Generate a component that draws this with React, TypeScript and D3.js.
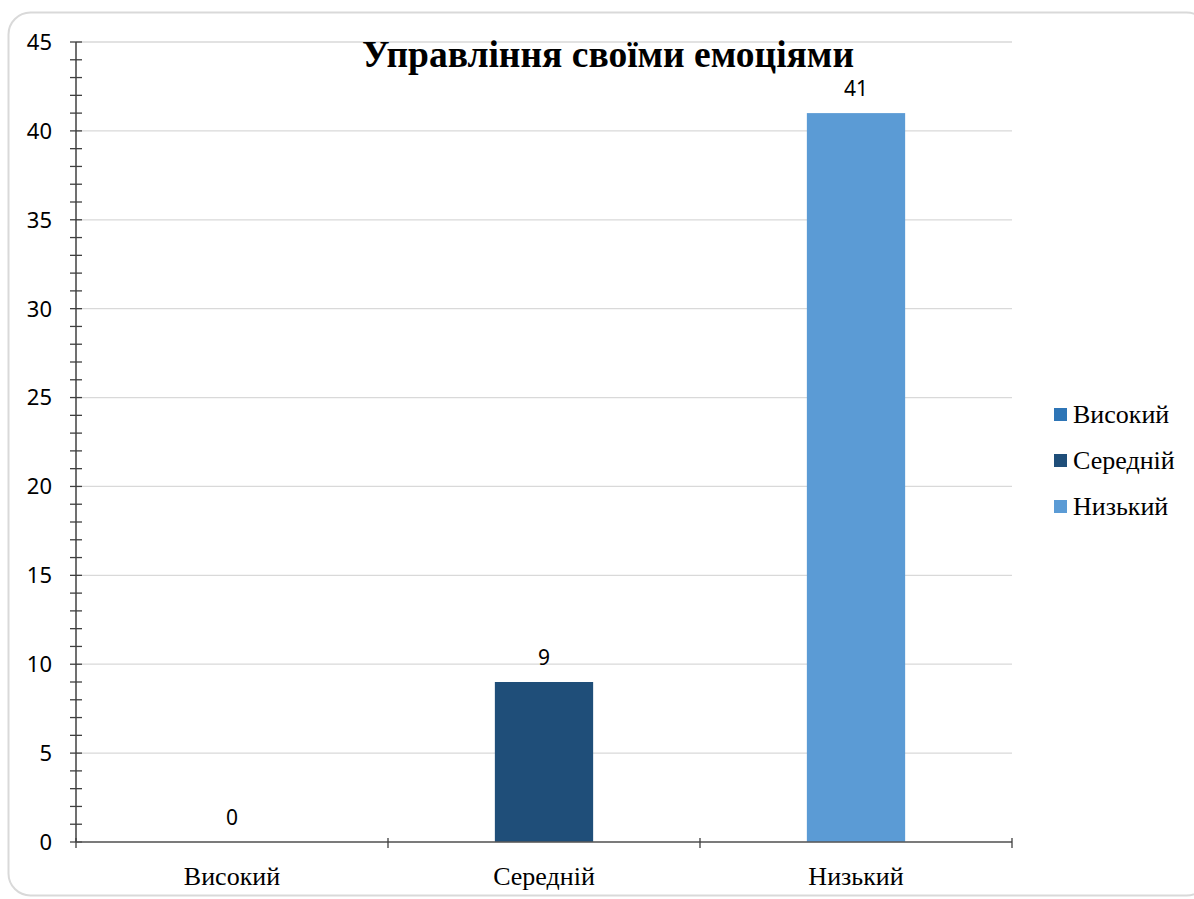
import React from 'react';
import * as d3 from 'd3';

const categories = ['Високий', 'Середній', 'Низький'];
const values = [0, 9, 41];
const colors = ['#2e75b6', '#1f4e79', '#5b9bd5'];
const yTicks = [0, 5, 10, 15, 20, 25, 30, 35, 40, 45];
const title = 'Управління своїми емоціями';

const App = () => {
  const W = 1194;
  const H = 899;
  const margin = { top: 42, right: 182, bottom: 57, left: 76 };
  const width = W - margin.left - margin.right;
  const height = H - margin.top - margin.bottom;

  const x = d3.scaleBand().domain(categories).range([0, width]).paddingInner(0.685).paddingOuter(0.3425);
  const xOuter = d3.scaleBand().domain(categories).range([0, width]);
  const y = d3.scaleLinear().domain([0, 45]).range([height, 0]);
  const minor = d3.range(0, 46, 1);

  const serif = '"Liberation Serif", "Times New Roman", serif';
  const sans = '"Noto Sans", "Open Sans", sans-serif';

  return (
    <svg width={W} height={H} style={{ position: 'absolute', left: 0, top: 0 }}>
      <rect x={8.5} y={12.5} width={1200} height={883} rx={22} fill="#fff" stroke="#d9d9d9" strokeWidth={2} />
      <g transform={`translate(${margin.left},${margin.top})`}>
        {yTicks.map(t => (
          <line key={'g' + t} x1={0} x2={width} y1={y(t)} y2={y(t)} stroke="#d9d9d9" strokeWidth={1.3} />
        ))}
        {categories.map((c, i) => (
          <rect key={c} x={x(c)} y={y(values[i])} width={x.bandwidth()} height={height - y(values[i])} fill={colors[i]} />
        ))}
        {categories.map((c, i) => (
          <text key={'v' + c} x={(x(c) ?? 0) + x.bandwidth() / 2} y={y(values[i]) - 17} textAnchor="middle"
            fontFamily={sans} fontSize={21} fill="#000">{values[i]}</text>
        ))}
        {/* y axis */}
        <line x1={0} x2={0} y1={0} y2={height} stroke="#404040" strokeWidth={1.5} />
        {minor.map(t => (
          <line key={'m' + t} x1={-6} x2={6} y1={y(t)} y2={y(t)} stroke="#404040" strokeWidth={1.3} />
        ))}
        {yTicks.map(t => (
          <text key={'t' + t} x={-24} y={y(t)} dy="0.36em" textAnchor="end" fontFamily={sans} fontSize={22} fill="#000">{t}</text>
        ))}
        {/* x axis */}
        <line x1={0} x2={width} y1={height} y2={height} stroke="#595959" strokeWidth={1.5} />
        {[...categories.map(c => xOuter(c) ?? 0), width].map((p, i) => (
          <line key={'xt' + i} x1={p} x2={p} y1={height - 4} y2={height + 6} stroke="#404040" strokeWidth={1.3} />
        ))}
        {categories.map(c => (
          <text key={'xl' + c} x={(xOuter(c) ?? 0) + xOuter.bandwidth() / 2} y={height + 43} textAnchor="middle"
            fontFamily={serif} fontSize={26} fill="#000">{c}</text>
        ))}
      </g>
      <text x={608} y={67} textAnchor="middle" fontFamily={serif} fontWeight="bold" fontSize={37.5} fill="#000">{title}</text>
      <g transform="translate(1054,414)">
        {categories.map((c, i) => (
          <g key={'lg' + c} transform={`translate(0,${i * 46})`}>
            <rect x={0} y={-6} width={13} height={13} fill={colors[i]} />
            <text x={19} y={0} dy="0.35em" fontFamily={serif} fontSize={26} fill="#000">{c}</text>
          </g>
        ))}
      </g>
    </svg>
  );
};

export default App;
